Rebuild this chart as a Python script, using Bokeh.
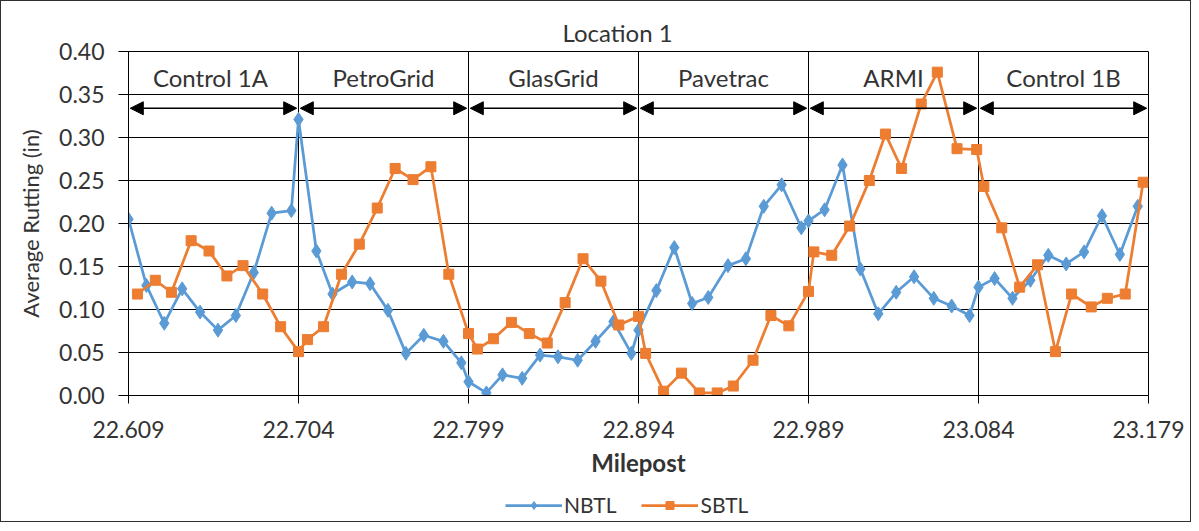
from bokeh.plotting import figure
from bokeh.layouts import column
from bokeh.models import (ColumnDataSource, Arrow, NormalHead, Legend, LegendItem,
                          FixedTicker, NumeralTickFormatter, Range1d)
from bokeh.core.properties import value
from bokeh.embed import file_html
from bokeh.resources import INLINE

# ---------------- data ----------------
nbtl_mp = [22.609, 22.619, 22.629, 22.639, 22.649, 22.659, 22.669, 22.679, 22.689, 22.700,
           22.704, 22.714, 22.723, 22.734, 22.744, 22.754, 22.764, 22.774, 22.785, 22.795,
           22.799, 22.809, 22.818, 22.829, 22.839, 22.849, 22.860, 22.870, 22.880, 22.890,
           22.894, 22.904, 22.914, 22.924, 22.933, 22.944, 22.954, 22.964, 22.974, 22.985,
           22.989, 22.998, 23.008, 23.018, 23.028, 23.038, 23.048, 23.059, 23.069, 23.079,
           23.084, 23.093, 23.103, 23.113, 23.123, 23.133, 23.143, 23.153, 23.163, 23.173]
nbtl_rut = [0.205, 0.128, 0.084, 0.124, 0.097, 0.076, 0.093, 0.143, 0.212, 0.215,
            0.321, 0.168, 0.118, 0.132, 0.130, 0.099, 0.049, 0.070, 0.063, 0.038,
            0.016, 0.003, 0.024, 0.020, 0.047, 0.045, 0.041, 0.063, 0.086, 0.049,
            0.076, 0.122, 0.172, 0.107, 0.114, 0.151, 0.159, 0.220, 0.245, 0.195,
            0.203, 0.216, 0.268, 0.147, 0.095, 0.120, 0.138, 0.113, 0.104, 0.093,
            0.126, 0.136, 0.113, 0.134, 0.163, 0.153, 0.167, 0.209, 0.164, 0.220]

sbtl_mp = [22.614, 22.624, 22.633, 22.644, 22.654, 22.664, 22.673, 22.684, 22.694, 22.704,
           22.709, 22.718, 22.728, 22.738, 22.748, 22.758, 22.768, 22.778, 22.788, 22.799,
           22.804, 22.813, 22.823, 22.833, 22.843, 22.853, 22.863, 22.873, 22.883, 22.894,
           22.898, 22.908, 22.918, 22.928, 22.938, 22.947, 22.958, 22.968, 22.978, 22.989,
           22.992, 23.002, 23.012, 23.023, 23.032, 23.041, 23.052, 23.061, 23.072, 23.083,
           23.087, 23.097, 23.107, 23.117, 23.127, 23.136, 23.147, 23.156, 23.166, 23.176]
sbtl_rut = [0.118, 0.134, 0.120, 0.180, 0.168, 0.139, 0.151, 0.118, 0.080, 0.051,
            0.065, 0.080, 0.141, 0.176, 0.218, 0.264, 0.251, 0.266, 0.141, 0.072,
            0.054, 0.066, 0.085, 0.072, 0.061, 0.108, 0.159, 0.133, 0.082, 0.092,
            0.049, 0.005, 0.026, 0.003, 0.003, 0.011, 0.041, 0.093, 0.081, 0.121,
            0.167, 0.163, 0.197, 0.250, 0.304, 0.264, 0.339, 0.376, 0.287, 0.286,
            0.243, 0.195, 0.126, 0.152, 0.051, 0.118, 0.103, 0.113, 0.118, 0.248]

boundaries = [22.609, 22.704, 22.799, 22.894, 22.989, 23.084, 23.179]
sections = ["Control  1A", "PetroGrid", "GlasGrid", "Pavetrac", "ARMI", "Control 1B"]
y_ticks = [0.00, 0.05, 0.10, 0.15, 0.20, 0.25, 0.30, 0.35, 0.40]
series_names = ["NBTL", "SBTL"]
title_text = "Location 1"
x_label = "Milepost"
y_label = "Average Rutting (in)"
section_label_y = 0.37
arrow_y = 0.334

# ---------------- style ----------------
FONT = "Lato"
TEXT = "#333333"
BLUE = "#5B9BD5"
ORANGE = "#ED7D31"

p = figure(width=1189, height=484, output_backend="svg", toolbar_location=None,
           x_range=Range1d(boundaries[0], boundaries[-1]), y_range=Range1d(y_ticks[0], y_ticks[-1]),
           min_border_left=127, min_border_right=42, min_border_top=50, min_border_bottom=90,
           title=title_text)

p.background_fill_color = "white"
p.border_fill_color = "white"
p.outline_line_color = "black"

# grid
p.xgrid.ticker = FixedTicker(ticks=boundaries)
p.ygrid.ticker = FixedTicker(ticks=y_ticks)
for g in (p.xgrid, p.ygrid):
    g.grid_line_color = "black"
    g.grid_line_width = 1
    g.grid_line_alpha = 1.0

# axes
p.xaxis.ticker = FixedTicker(ticks=boundaries)
p.yaxis.ticker = FixedTicker(ticks=y_ticks)
p.xaxis.formatter = NumeralTickFormatter(format="0.000")
p.yaxis.formatter = NumeralTickFormatter(format="0.00")
for ax in (p.xaxis, p.yaxis):
    ax.axis_line_color = "black"
    ax.major_tick_line_color = "black"
    ax.minor_tick_line_color = None
    ax.major_tick_in = 0
    ax.major_label_text_font = FONT
    ax.major_label_text_font_size = "23px"
    ax.major_label_text_color = TEXT
    ax.axis_label_text_font = FONT
    ax.axis_label_text_color = TEXT
p.xaxis.major_tick_out = 8
p.yaxis.major_tick_out = 10
p.xaxis.major_label_standoff = 17
p.yaxis.major_label_standoff = 14
p.xaxis.axis_label = x_label
p.yaxis.axis_label = y_label
p.xaxis.axis_label_text_font_style = "bold"
p.xaxis.axis_label_text_font_size = "24px"
p.yaxis.axis_label_text_font_style = "normal"
p.yaxis.axis_label_text_font_size = "22px"
p.xaxis.axis_label_standoff = 7
p.yaxis.axis_label_standoff = 12

# title
p.title.text_font = FONT
p.title.text_font_size = "24px"
p.title.text_font_style = "normal"
p.title.text_color = TEXT
p.title.align = "left"
p.title.offset = 434
p.title.standoff = 10

# series
r1 = p.line(nbtl_mp, nbtl_rut, line_color=BLUE, line_width=2.75)
r1m = p.scatter(nbtl_mp, nbtl_rut, marker="diamond", size=14, fill_color=BLUE, line_color=BLUE)
r2 = p.line(sbtl_mp, sbtl_rut, line_color=ORANGE, line_width=2.75)
r2m = p.scatter(sbtl_mp, sbtl_rut, marker="square", size=10, fill_color=ORANGE, line_color=ORANGE)

# section arrows and labels
pad = 0.001
arrow_src = ColumnDataSource(dict(
    x0=[b + pad for b in boundaries[:-1]],
    x1=[b - pad for b in boundaries[1:]],
    y=[arrow_y] * len(sections)))
p.add_layout(Arrow(start=NormalHead(size=13, fill_color="black", line_color="black"),
                   end=NormalHead(size=13, fill_color="black", line_color="black"),
                   x_start="x0", y_start="y", x_end="x1", y_end="y", source=arrow_src,
                   line_color="black", line_width=1.5))

label_src = ColumnDataSource(dict(
    x=[(a + b) / 2 for a, b in zip(boundaries[:-1], boundaries[1:])],
    y=[section_label_y] * len(sections),
    name=sections))
p.text(x="x", y="y", text="name", source=label_src, text_font=value(FONT),
       text_font_size="24px", text_align="center", text_baseline="middle", text_color=TEXT)

# legend strip (separate small figure below the chart; its series lie outside
# its own view range so only the legend swatches are visible)
q = figure(width=1189, height=36, output_backend="svg", toolbar_location=None,
           x_range=Range1d(0, 1), y_range=Range1d(0, 1), x_axis_type=None, y_axis_type=None,
           min_border=0)
q.outline_line_color = None
q.background_fill_color = "white"
q.border_fill_color = "white"
k1 = q.line(nbtl_mp, nbtl_rut, line_color=BLUE, line_width=2.75)
k1m = q.scatter(nbtl_mp, nbtl_rut, marker="diamond", size=14, fill_color=BLUE, line_color=BLUE)
k2 = q.line(sbtl_mp, sbtl_rut, line_color=ORANGE, line_width=2.75)
k2m = q.scatter(sbtl_mp, sbtl_rut, marker="square", size=10, fill_color=ORANGE, line_color=ORANGE)

legend = Legend(items=[LegendItem(label=series_names[0], renderers=[k1, k1m]),
                       LegendItem(label=series_names[1], renderers=[k2, k2m])],
                location=(377, 4), orientation="horizontal",
                glyph_width=57, glyph_height=20, label_height=20, label_standoff=2,
                spacing=25, padding=0, margin=0, border_line_color=None,
                background_fill_alpha=0, label_text_font=FONT,
                label_text_font_size="21px", label_text_color=TEXT)
q.add_layout(legend)

layout = column(p, q, spacing=0, styles={"border": "1px solid #303030"})

open("out.html", "w").write(file_html(layout, INLINE))
